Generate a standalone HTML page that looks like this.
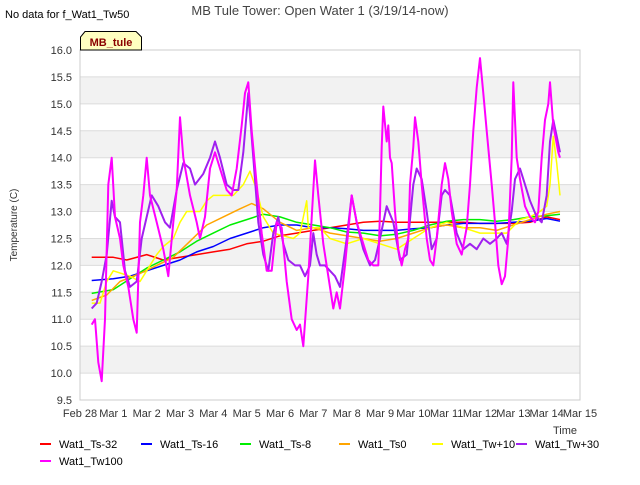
<!DOCTYPE html>
<html><head><meta charset="utf-8"><style>
body{margin:0;background:#fff;font-family:"Liberation Sans",sans-serif;}
svg text{font-family:"Liberation Sans",sans-serif;}
</style></head><body>
<svg id="c" width="640" height="480" xmlns="http://www.w3.org/2000/svg">
<rect x="0" y="0" width="640" height="480" fill="#fff"/>
<g id="bands"></g><g id="grid"></g><g id="axes"></g><g id="series"></g>
<text x="320" y="15" text-anchor="middle" font-size="13" fill="#444">MB Tule Tower: Open Water 1 (3/19/14-now)</text>
<text x="5" y="18" font-size="11" fill="#000">No data for f_Wat1_Tw50</text>
<g><path d="M80.5,50 L80.5,37 L85,31.5 L136,31.5 L141.5,37 L141.5,50 Z" fill="#ffffc0" stroke="#000"/><text x="111" y="46" text-anchor="middle" font-size="11" font-weight="bold" fill="#8b0000">MB_tule</text></g>
<text transform="translate(17,225) rotate(-90)" text-anchor="middle" font-size="10" fill="#333">Temperature (C)</text>
<text x="553" y="434" font-size="11" fill="#333">Time</text>
<g id="legend"></g>
</svg>
<script>
const NS="http://www.w3.org/2000/svg";
const xTicks=["Feb 28","Mar 1","Mar 2","Mar 3","Mar 4","Mar 5","Mar 6","Mar 7","Mar 8","Mar 9","Mar 10","Mar 11","Mar 12","Mar 13","Mar 14","Mar 15"];
const yTicks=[9.5,10,10.5,11,11.5,12,12.5,13,13.5,14,14.5,15,15.5,16];
const seriesNames=["Wat1_Ts-32","Wat1_Ts-16","Wat1_Ts-8","Wat1_Ts0","Wat1_Tw+10","Wat1_Tw+30","Wat1_Tw100"];
const seriesColors=["#ff0000","#0000ff","#00ee00","#ffa500","#ffff00","#a020f0","#ff00ff"];
const ts32=[[0.35,12.15],[1,12.15],[1.4,12.1],[2,12.2],[2.5,12.1],[3,12.15],[3.5,12.2],[4,12.25],[4.5,12.3],[5,12.4],[5.5,12.45],[6,12.55],[6.5,12.6],[7,12.65],[7.5,12.7],[8,12.75],[8.5,12.8],[9,12.82],[9.5,12.8],[10,12.8],[10.5,12.8],[11,12.8],[11.5,12.8],[12,12.78],[12.5,12.78],[13,12.78],[13.5,12.8],[14,12.9],[14.4,12.85]];
const ts16=[[0.35,11.72],[1,11.75],[1.5,11.8],[2,11.9],[2.5,12],[3,12.1],[3.5,12.25],[4,12.35],[4.5,12.5],[5,12.6],[5.5,12.7],[6,12.75],[6.5,12.75],[7,12.7],[7.5,12.7],[8,12.68],[8.5,12.65],[9,12.65],[9.5,12.65],[10,12.68],[10.5,12.7],[11,12.75],[11.5,12.78],[12,12.78],[12.5,12.78],[13,12.8],[13.5,12.82],[14,12.87],[14.4,12.82]];
const ts8=[[0.35,11.48],[1,11.55],[1.5,11.75],[2,11.95],[2.5,12.1],[3,12.25],[3.5,12.45],[4,12.6],[4.5,12.75],[5,12.85],[5.5,12.95],[6,12.9],[6.5,12.8],[7,12.75],[7.5,12.7],[8,12.62],[8.5,12.6],[9,12.55],[9.5,12.58],[10,12.65],[10.5,12.75],[11,12.82],[11.5,12.85],[12,12.85],[12.5,12.82],[13,12.85],[13.5,12.9],[14,12.92],[14.4,12.95]];
const ts0=[[0.35,11.35],[0.8,11.45],[1.2,11.7],[1.8,11.85],[2.3,12],[2.8,12.15],[3.3,12.45],[3.8,12.75],[4.3,12.9],[4.8,13.05],[5.15,13.15],[5.5,13.05],[6,12.8],[6.5,12.65],[7,12.7],[7.5,12.6],[8,12.55],[8.5,12.5],[9,12.45],[9.5,12.5],[10,12.6],[10.5,12.7],[11,12.75],[11.5,12.7],[12,12.7],[12.5,12.65],[13,12.75],[13.5,12.85],[14,12.95],[14.4,13]];
const tw10=[[0.35,11.3],[0.6,11.3],[0.8,11.7],[1,11.9],[1.5,11.8],[1.8,11.7],[2,11.9],[2.3,12.2],[2.5,12.35],[2.8,12.5],[3,12.8],[3.2,13],[3.6,13],[3.8,13.2],[4,13.3],[4.4,13.3],[4.6,13.3],[4.9,13.5],[5.1,13.75],[5.3,13.4],[5.5,12.9],[5.8,12.6],[6.1,12.55],[6.4,12.5],[6.6,12.6],[6.8,13.2],[6.85,12.7],[7.2,12.7],[7.5,12.5],[8,12.4],[8.5,12.5],[9,12.4],[9.5,12.3],[10,12.5],[10.5,12.7],[11,12.8],[11.5,12.7],[12,12.6],[12.5,12.6],[12.8,12.6],[13.2,12.85],[13.5,12.9],[13.8,13],[14,13.1],[14.1,13.5],[14.2,14.4],[14.3,13.9],[14.4,13.3]];
const tw30=[[0.35,11.2],[0.5,11.3],[0.65,11.7],[0.8,12.2],[0.95,13.2],[1.05,12.9],[1.2,12.8],[1.35,11.9],[1.5,11.6],[1.7,11.7],[1.85,12.5],[2,12.9],[2.15,13.3],[2.35,13.1],[2.55,12.8],[2.7,12.7],[2.9,13.4],[3.1,13.9],[3.3,13.8],[3.45,13.5],[3.7,13.7],[3.9,14],[4.05,14.3],[4.2,14],[4.4,13.5],[4.6,13.4],[4.75,13.4],[4.9,14.1],[5.05,15.2],[5.2,14],[5.35,12.8],[5.5,12.2],[5.65,11.9],[5.8,12.6],[5.95,12.9],[6.1,12.4],[6.25,12.1],[6.45,12],[6.6,12],[6.75,11.8],[6.9,12],[7,12.6],[7.1,12.2],[7.2,12],[7.35,12],[7.5,11.9],[7.65,11.8],[7.8,11.6],[8,12.5],[8.15,13.3],[8.3,12.8],[8.5,12.3],[8.7,12],[8.85,12.1],[9,12.5],[9.2,13.1],[9.4,12.8],[9.6,12.1],[9.8,12.2],[10,13.5],[10.1,13.8],[10.25,13.6],[10.4,13],[10.55,12.3],[10.7,12.5],[10.85,13.3],[10.95,13.4],[11.1,13.3],[11.3,12.6],[11.5,12.3],[11.7,12.4],[11.9,12.3],[12.1,12.5],[12.3,12.4],[12.5,12.5],[12.65,12.6],[12.8,12.4],[12.95,13],[13.05,13.6],[13.2,13.8],[13.35,13.5],[13.5,13.2],[13.7,12.9],[13.85,12.8],[14,13.3],[14.1,14.3],[14.2,14.7],[14.3,14.4],[14.4,14.1]];
const tw100=[[0.35,10.9],[0.45,11],[0.55,10.2],[0.65,9.85],[0.75,11],[0.85,13.5],[0.95,14],[1.05,12.9],[1.2,12.5],[1.3,12],[1.45,11.6],[1.6,11],[1.7,10.75],[1.8,12.8],[1.9,13.3],[2,14],[2.1,13.3],[2.3,12.8],[2.5,12.3],[2.65,11.8],[2.8,12.8],[2.9,13.4],[3,14.75],[3.1,14],[3.3,13.3],[3.5,12.8],[3.6,12.5],[3.75,12.9],[3.9,13.8],[4.05,14.1],[4.2,13.8],[4.4,13.4],[4.55,13.3],[4.7,13.8],[4.85,14.6],[4.95,15.2],[5.05,15.4],[5.15,14.5],[5.3,13.5],[5.45,12.6],[5.6,11.9],[5.75,11.9],[5.9,12.8],[6.05,12.7],[6.2,11.7],[6.35,11],[6.5,10.8],[6.6,10.9],[6.7,10.5],[6.85,11.8],[7,13.4],[7.05,13.95],[7.15,13.3],[7.3,12.4],[7.45,11.8],[7.6,11.2],[7.7,11.5],[7.8,11.2],[7.95,12],[8.15,13.3],[8.3,12.8],[8.5,12.4],[8.65,12.1],[8.8,12],[8.95,12],[9,13],[9.05,14.2],[9.1,14.95],[9.2,14.3],[9.25,14.6],[9.3,14],[9.35,13.9],[9.45,13],[9.55,12.3],[9.65,12],[9.75,12.3],[9.85,12.5],[9.9,13.5],[10,14.2],[10.05,14.75],[10.15,14.3],[10.25,13.5],[10.4,12.5],[10.5,12.1],[10.6,12],[10.7,12.5],[10.85,13.5],[10.95,13.9],[11.05,13.6],[11.15,13],[11.3,12.4],[11.45,12.2],[11.6,12.7],[11.7,13.5],[11.8,14.5],[11.9,15.3],[12,15.85],[12.1,15.2],[12.2,14.5],[12.35,13.5],[12.45,12.8],[12.55,12],[12.65,11.65],[12.75,11.8],[12.85,12.5],[12.95,14],[13,15.4],[13.1,14],[13.2,13.6],[13.35,13.1],[13.5,12.9],[13.65,12.8],[13.75,13],[13.85,14],[13.95,14.7],[14.05,15],[14.1,15.4],[14.2,14.6],[14.35,14.1],[14.4,14]];
const seriesData=[ts32,ts16,ts8,ts0,tw10,tw30,tw100];
const X0=80,X1=580,Y0=400,Y1=50,VMIN=9.5,VMAX=16,DAYS=15;
const xs=d=>X0+d*(X1-X0)/DAYS;
const ys=v=>Y0-(v-VMIN)*(Y0-Y1)/(VMAX-VMIN);
function mk(tag,attrs,parent){const e=document.createElementNS(NS,tag);for(const k in attrs)e.setAttribute(k,attrs[k]);document.getElementById(parent).appendChild(e);return e;}
// bands
for(let v=10;v<16;v+=1){
 const e=mk("rect",{x:X0,y:ys(v+0.5),width:X1-X0,height:ys(v)-ys(v+0.5),fill:"#f2f2f2"},"bands");
 
 
}
yTicks.forEach(v=>{
 const l=mk("line",{x1:X0,x2:X1,y1:ys(v),y2:ys(v),stroke:"#dcdcdc","stroke-width":1},"grid");
 
 
 const t=mk("text",{x:X0-8,y:ys(v)+4,"text-anchor":"end","font-size":11,fill:"#333"},"axes");
 
 
 t.textContent=v.toFixed(1);
});
xTicks.forEach((s,i)=>{
 const t=mk("text",{x:xs(i),y:Y0+17,"text-anchor":"middle","font-size":11,fill:"#333"},"axes");
 
 
 t.textContent=s;
});
const fr=mk("rect",{x:X0,y:Y1,width:X1-X0,height:Y0-Y1,fill:"none",stroke:"#ccc"},"axes");


seriesData.forEach((d,i)=>{
 const p=mk("polyline",{points:d.map(q=>xs(q[0]).toFixed(1)+","+ys(q[1]).toFixed(1)).join(" "),fill:"none",stroke:seriesColors[i],"stroke-width":i>=5?2:1.5,"stroke-linejoin":"round"},"series");
 
 
});
const lx=[40,141,240,339,432,516,40],ly=[444,444,444,444,444,444,461];
seriesNames.forEach((n,i)=>{
 const g=mk("g",{},"legend");
 
 
 const l=document.createElementNS(NS,"line");l.setAttribute("x1",lx[i]);l.setAttribute("x2",lx[i]+11);l.setAttribute("y1",ly[i]);l.setAttribute("y2",ly[i]);l.setAttribute("stroke",seriesColors[i]);l.setAttribute("stroke-width",2);g.appendChild(l);
 const t=document.createElementNS(NS,"text");t.setAttribute("x",lx[i]+19);t.setAttribute("y",ly[i]+4);t.setAttribute("font-size",11);t.setAttribute("fill","#000");t.textContent=n;g.appendChild(t);
});
</script>
</body></html>
